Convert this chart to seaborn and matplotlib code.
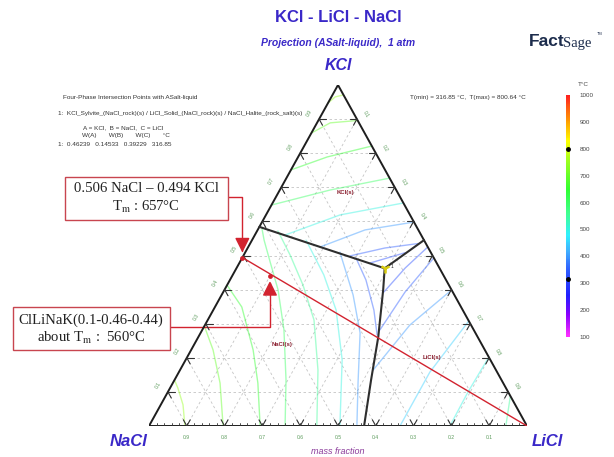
import numpy as np
import pandas as pd
import matplotlib
matplotlib.use("Agg")
import matplotlib.pyplot as plt
import seaborn as sns
from matplotlib.colors import LinearSegmentedColormap, Normalize
from matplotlib.patches import Rectangle
import matplotlib.colorbar as mcolorbar

# ---------------- data (mass fractions) ----------------
components = ["KCl", "NaCl", "LiCl"]
tick_values = [0.1, 0.2, 0.3, 0.4, 0.5, 0.6, 0.7, 0.8, 0.9]

# liquidus isotherms: temperature, KCl fraction, LiCl fraction per point
iso_temp = [750, 700, 650, 600, 550, 500, 400, 350,          # NaCl(s) field
            750, 700, 650, 600, 500, 400, 350, 330,          # KCl(s) field
            330, 350, 400, 450, 500, 550]                    # LiCl(s) field
iso_kcl = [
    [0.0, 0.062, 0.111, 0.135],
    [0.0, 0.126, 0.223, 0.293],
    [0.0, 0.126, 0.223, 0.349, 0.413],
    [0.0, 0.135, 0.282, 0.399, 0.481, 0.545, 0.578],
    [0.0, 0.164, 0.311, 0.413, 0.501, 0.572],
    [0.0, 0.194, 0.340, 0.443, 0.545],
    [0.0, 0.126, 0.273, 0.384, 0.510],
    [0.493, 0.428, 0.340, 0.267],
    [0.947, 0.965, 0.971],
    [0.859, 0.889, 0.896],
    [0.751, 0.789, 0.821],
    [0.648, 0.692, 0.727],
    [0.560, 0.619, 0.654],
    [0.525, 0.575, 0.598],
    [0.499, 0.522, 0.535],
    [0.478, 0.508],
    [0.393, 0.463, 0.525],
    [0.282, 0.393, 0.493],
    [0.164, 0.296, 0.399],
    [0.0, 0.158, 0.308],
    [0.0, 0.0997, 0.202],
    [0.0, 0.088],
]
iso_licl = [
    [0.095, 0.059, 0.021, 0.0],
    [0.196, 0.125, 0.058, 0.0],
    [0.294, 0.225, 0.164, 0.071, 0.0],
    [0.360, 0.295, 0.216, 0.142, 0.080, 0.032, 0.010],
    [0.444, 0.365, 0.281, 0.201, 0.123, 0.055],
    [0.505, 0.414, 0.325, 0.241, 0.143],
    [0.550, 0.490, 0.422, 0.348, 0.250],
    [0.301, 0.360, 0.425, 0.470],
    [0.0, 0.010, 0.029],
    [0.0, 0.035, 0.104],
    [0.0, 0.077, 0.179],
    [0.0, 0.133, 0.273],
    [0.080, 0.196, 0.346],
    [0.190, 0.284, 0.402],
    [0.283, 0.363, 0.444],
    [0.346, 0.423],
    [0.425, 0.446, 0.475],
    [0.470, 0.481, 0.507],
    [0.511, 0.542, 0.601],
    [0.664, 0.664, 0.692],
    [0.796, 0.794, 0.798],
    [0.944, 0.912],
]

# four-phase point (A=KCl, B=NaCl, C=LiCl)
eut_kcl, eut_nacl, eut_licl, eut_T = 0.46239, 0.14533, 0.39229, 316.85
t_min, t_max = 316.85, 800.64

# univariant (three-phase) lines: KCl / LiCl fractions
uni1_kcl = [0.584, eut_kcl]
uni1_licl = [0.0, eut_licl]
uni2_kcl = [eut_kcl, 0.545]
uni2_licl = [eut_licl, 0.455]
uni3_kcl = [eut_kcl, 0.399, 0.261, 0.135, 0.0]
uni3_licl = [eut_licl, 0.420, 0.476, 0.520, 0.569]

# highlighted compositions
p1_kcl, p1_licl = 0.494, 0.0        # 0.506 NaCl - 0.494 KCl
p2_kcl, p2_licl = 0.44, 0.10        # ClLiNaK(0.1-0.46-0.44)

phase_names = ["KCl(s)", "NaCl(s)", "LiCl(s)"]
phase_kcl = [0.686, 0.238, 0.202]
phase_licl = [0.176, 0.233, 0.648]

cbar_ticks = [100, 200, 300, 400, 500, 600, 700, 800, 900, 1000]

# ---------------- style ----------------
sns.set_theme(style="white")
plt.rcParams["font.family"] = ["Liberation Sans", "DejaVu Sans"]
plt.rcParams["mathtext.fontset"] = "stix"

W, H = 614, 457
fig = plt.figure(figsize=(W / 100, H / 100), dpi=100)
fig.patch.set_facecolor("white")
ax = fig.add_axes([149 / W, 31 / H, 378 / W, 341 / H])


def cart(kcl, licl):
    kcl = np.asarray(kcl, float)
    licl = np.asarray(licl, float)
    return licl + kcl / 2.0, kcl


def fx(px):
    return px / W


def fy(py):
    return 1 - py / H


cmap = LinearSegmentedColormap.from_list(
    "ft",
    [(0.0, "#ff30ff"), (0.09, "#8a00ff"), (0.17, "#2020ff"), (0.28, "#3060ff"),
     (0.355, "#40b0ff"), (0.42, "#30f0ff"), (0.51, "#40ff90"), (0.61, "#30ff30"),
     (0.73, "#a0ff20"), (0.81, "#ffff00"), (0.89, "#ffa000"), (1.0, "#ff2020")])
norm = Normalize(100, 1000)

grid_kw = dict(color="#c4c4c4", lw=0.6, ls=(0, (3, 3)), zorder=1)
for v in tick_values:
    x, y = cart([v, v], [0, 1 - v]); ax.plot(x, y, **grid_kw)
    x, y = cart([0, 1 - v], [v, v]); ax.plot(x, y, **grid_kw)
    x, y = cart([1 - v, 0], [0, 1 - v]); ax.plot(x, y, **grid_kw)

# isotherms through seaborn
rows = []
for i, (T, ks, ls) in enumerate(zip(iso_temp, iso_kcl, iso_licl)):
    xs, ys = cart(ks, ls)
    for j, (xx, yy) in enumerate(zip(xs, ys)):
        rows.append(dict(curve=i, order=j, x=xx, y=yy, T=T))
df = pd.DataFrame(rows)
sns.lineplot(data=df, x="x", y="y", units="curve", estimator=None, sort=False,
             hue="T", palette=cmap, hue_norm=norm, legend=False, lw=1.0,
             alpha=0.45, ax=ax, zorder=2)

# triangle frame
tx, ty = cart([1, 0, 0, 1], [0, 0, 1, 0])
ax.plot(tx, ty, color="#1e1e1e", lw=1.4, zorder=5, solid_joinstyle="miter")

# major ticks (V marks) and edge labels
t = 0.018
tick_kw = dict(color="#333333", lw=0.8, zorder=5)
lab_kw = dict(fontsize=3.6, color="#5a9a5a", ha="center", va="center",
              textcoords="offset points", annotation_clip=False)
for v in tick_values:
    # bottom edge, NaCl = v
    c = 1 - v
    for k2, l2 in [(t, c), (t, c - t)]:
        x, y = cart([0, k2], [c, l2]); ax.plot(x, y, **tick_kw)
    ax.annotate(f"{v:.1f}", cart(0, c), xytext=(0, -8), **lab_kw)
    # left edge, KCl = v
    for k2, l2 in [(v, t), (v - t, t)]:
        x, y = cart([v, k2], [0, l2]); ax.plot(x, y, **tick_kw)
    ax.annotate(f"{v:.1f}", cart(v, 0), xytext=(-7, 4.5), rotation=60, **lab_kw)
    # right edge, LiCl = v
    k = 1 - v
    for k2, l2 in [(k, v - t), (k - t, v)]:
        x, y = cart([k, k2], [v, l2]); ax.plot(x, y, **tick_kw)
    ax.annotate(f"{v:.1f}", cart(k, v), xytext=(6.3, 3.8), rotation=-60, **lab_kw)

# minor ticks every 0.02 on the bottom edge
minor = [m / 50 for m in range(1, 50)]
for m in minor:
    x, y = cart([0, 0.008], [1 - m, 1 - m - 0.004])
    ax.plot(x, y, color="#333333", lw=0.6, zorder=5)

# univariant lines
for ks, ls in [(uni1_kcl, uni1_licl), (uni2_kcl, uni2_licl), (uni3_kcl, uni3_licl)]:
    x, y = cart(ks, ls)
    ax.plot(x, y, color="#2e2e2e", lw=1.5, zorder=6)

ex, ey = cart(eut_kcl, eut_licl)
ax.plot([ex], [ey], marker="1", ms=7, mew=1.8, color="#d8cc10", zorder=7)
ax.annotate("1", (ex, ey), xytext=(4, 1), textcoords="offset points",
            fontsize=3.5, color="#222222", va="center")

# red line and points
red = "#d2232f"
lx, ly = cart([p1_kcl, 0.0], [p1_licl, 1.0])
ax.plot(lx, ly, color=red, lw=1.0, zorder=8)
px_, py_ = cart([p1_kcl, p2_kcl], [p1_licl, p2_licl])
ax.scatter(px_, py_, s=12, color=red, zorder=9, linewidths=0)

# phase labels
for name, k, l in zip(phase_names, phase_kcl, phase_licl):
    x, y = cart(k, l)
    ax.text(x, y, name, fontsize=4.3, color="#8b2030", ha="center", va="center",
            fontweight="bold", zorder=9)

ax.set_xlim(0, 1)
ax.set_ylim(0, 1)
ax.axis("off")

# annotations with boxes
box_ec = "#c8454f"
arrow = dict(arrowstyle="-|>,head_length=0.9,head_width=0.45",
             connectionstyle="angle,angleA=0,angleB=90,rad=0",
             color=red, lw=1.0, shrinkA=0, shrinkB=3.6, mutation_scale=10)
ax.annotate("", xy=cart(p1_kcl, p1_licl), xycoords="data",
            xytext=(228, H - 197), textcoords="figure pixels", arrowprops=arrow,
            annotation_clip=False)
ax.annotate("", xy=cart(p2_kcl, p2_licl), xycoords="data",
            xytext=(170, H - 327), textcoords="figure pixels", arrowprops=arrow,
            annotation_clip=False)

fig.add_artist(Rectangle((fx(65), fy(220)), 163 / W, 43 / H, transform=fig.transFigure,
                         fc="white", ec=box_ec, lw=1.0))
fig.add_artist(Rectangle((fx(13), fy(350)), 157 / W, 43 / H, transform=fig.transFigure,
                         fc="white", ec=box_ec, lw=1.0))
serif = dict(family=["Liberation Serif", "DejaVu Serif"], fontsize=10.6, color="#222222",
             ha="center", va="center")
fig.text(fx(146), fy(189), "0.506 NaCl – 0.494 KCl", **serif)
fig.text(fx(146), fy(207), r"T$_\mathrm{m}$ : 657°C", **serif)
fig.text(fx(91), fy(320), "ClLiNaK(0.1-0.46-0.44)", **serif)
fig.text(fx(91), fy(338), r"about T$_\mathrm{m}$ :  560°C", **serif)

# titles and corner labels
blue = "#3a28c8"
fig.text(fx(338), fy(17), "KCl - LiCl - NaCl", fontsize=12, fontweight="bold",
         color=blue, ha="center", va="center")
fig.text(fx(338), fy(43), "Projection (ASalt-liquid),  1 atm", fontsize=7.5,
         fontweight="bold", style="italic", color=blue, ha="center", va="center")
fig.text(fx(338), fy(66), "KCl", fontsize=11.5, fontweight="bold", style="italic",
         color=blue, ha="center", va="center")
fig.text(fx(129), fy(441), "NaCl", fontsize=12, fontweight="bold", style="italic",
         color=blue, ha="center", va="center")
fig.text(fx(547), fy(441), "LiCl", fontsize=12, fontweight="bold", style="italic",
         color=blue, ha="center", va="center")
fig.text(fx(338), fy(452), "mass fraction", fontsize=6.5, style="italic",
         color="#8a3a9a", ha="center", va="center")

# FactSage logo text
fig.text(fx(529), fy(41), "Fact", fontsize=12.5, fontweight="bold", color="#1c2c4c",
         ha="left", va="center")
fig.text(fx(563.5), fy(43), "Sage", fontsize=10.5, color="#1c2c4c", ha="left", va="center",
         family=["Liberation Serif", "DejaVu Serif"])
fig.text(fx(597), fy(34), "TM", fontsize=2.8, color="#1c2c4c", ha="left", va="center")

# info text block
info = dict(fontsize=4.6, color="#333333", ha="left", va="center")
fig.text(fx(63), fy(98), "Four-Phase Intersection Points with ASalt-liquid", **info)
fig.text(fx(58), fy(113), "1:  KCl_Sylvite_(NaCl_rock)(s) / LiCl_Solid_(NaCl_rock)(s) / "
         "NaCl_Halite_(rock_salt)(s)", **info)
fig.text(fx(83), fy(128), "A = KCl,  B = NaCl,  C = LiCl", **info)
fig.text(fx(82), fy(135), "W(A)       W(B)       W(C)       °C", **info)
fig.text(fx(58), fy(145), f"1:  {eut_kcl:.5f}   {eut_nacl:.5f}   {eut_licl:.5f}   {eut_T:.2f}",
         **info)
fig.text(fx(410), fy(97), f"T(min) = {t_min:.2f} °C,  T(max) = {t_max:.2f} °C", **info)

# colour bar
cax = fig.add_axes([566 / W, fy(337), 4 / W, 242 / H])
cb = mcolorbar.ColorbarBase(cax, cmap=cmap, norm=norm, orientation="vertical")
cb.outline.set_visible(False)
cb.set_ticks(cbar_ticks)
cax.tick_params(length=0, labelsize=4.5, labelcolor="#444444", pad=7)
cax.plot([0.5, 0.5], [t_max, t_min], "o", color="black", ms=2.5, clip_on=False)
fig.text(fx(583), fy(84), "T°C", fontsize=4.5, color="#444444", ha="center", va="center")

fig.savefig("out.png", dpi=100)
